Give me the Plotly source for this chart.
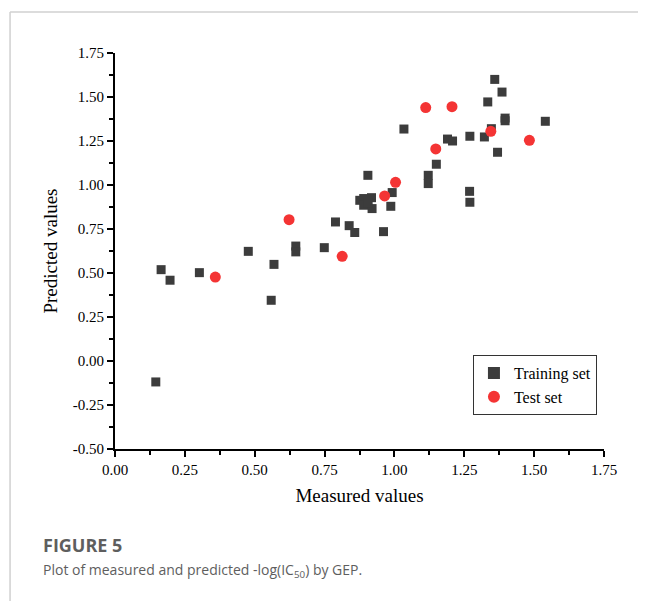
import plotly.graph_objects as go

train_x = [0.146, 0.165, 0.197, 0.302, 0.477, 0.559, 0.569, 0.647, 0.647, 0.749,
           0.789, 0.838, 0.858, 0.876, 0.890, 0.918, 0.890, 0.920, 0.906, 0.905,
           0.961, 0.987, 0.992, 1.034, 1.121, 1.121, 1.150, 1.190, 1.208, 1.269,
           1.270, 1.270, 1.322, 1.334, 1.347, 1.359, 1.369, 1.385, 1.396, 1.396,
           1.540]
train_y = [-0.119, 0.519, 0.459, 0.502, 0.623, 0.345, 0.549, 0.653, 0.620, 0.644,
           0.790, 0.769, 0.730, 0.913, 0.923, 0.928, 0.885, 0.866, 0.898, 1.055,
           0.735, 0.879, 0.957, 1.318, 1.055, 1.008, 1.118, 1.261, 1.250, 0.964,
           0.902, 1.277, 1.273, 1.472, 1.320, 1.600, 1.186, 1.528, 1.380, 1.365,
           1.362]

test_x = [0.359, 0.623, 0.813, 0.965, 1.004, 1.112, 1.148, 1.206, 1.345, 1.483]
test_y = [0.477, 0.803, 0.595, 0.938, 1.015, 1.440, 1.205, 1.445, 1.305, 1.254]

x_ticks = [0.00, 0.25, 0.50, 0.75, 1.00, 1.25, 1.50, 1.75]
y_ticks = [-0.50, -0.25, 0.00, 0.25, 0.50, 0.75, 1.00, 1.25, 1.50, 1.75]

serif = "Liberation Serif"

fig = go.Figure()
fig.add_trace(go.Scatter(
    x=train_x, y=train_y, mode="markers", name="Training set",
    marker=dict(symbol="square", size=9, color="#3c3c3c"),
))
fig.add_trace(go.Scatter(
    x=test_x, y=test_y, mode="markers", name="Test set",
    marker=dict(symbol="circle", size=11, color="#f43434"),
))

axis_common = dict(
    showgrid=False, zeroline=False, showline=True, linecolor="black", linewidth=2,
    ticks="outside", ticklen=6, tickwidth=1.5, tickcolor="black",
    tickfont=dict(family=serif, size=15, color="black"),
    minor=dict(ticks="outside", ticklen=4, tickwidth=1.5, tickcolor="black", dtick=0.125),
)

fig.update_xaxes(range=[0, 1.75], tickvals=x_ticks,
                 ticktext=[f"{v:.2f}" for v in x_ticks],
                 title=dict(text="Measured values", font=dict(family=serif, size=19, color="black"), standoff=12),
                 **axis_common)
fig.update_yaxes(range=[-0.5, 1.75], tickvals=y_ticks,
                 ticktext=[f"{v:.2f}" for v in y_ticks],
                 title=dict(text="Predicted values", font=dict(family=serif, size=19, color="black"), standoff=10),
                 **axis_common)

fig.update_layout(
    width=638, height=593,
    margin=dict(l=107, r=42, t=45, b=152),
    paper_bgcolor="white", plot_bgcolor="white",
    showlegend=True,
    legend=dict(x=0.732, y=0.237, xanchor="left", yanchor="top",
                bordercolor="#333", borderwidth=1, bgcolor="white",
                font=dict(family=serif, size=16, color="black"),
                itemsizing="constant", tracegroupgap=0),
    annotations=[
        dict(text="<b>FIGURE 5</b>", xref="paper", yref="paper", x=-0.151, y=-0.242,
             xanchor="left", yanchor="middle", showarrow=False,
             font=dict(family="Open Sans", size=18, color="#5e5e5e")),
        dict(text="Plot of measured and predicted -log(IC<sub>50</sub>) by GEP.",
             xref="paper", yref="paper", x=-0.151, y=-0.306,
             xanchor="left", yanchor="middle", showarrow=False,
             font=dict(family="Open Sans", size=14, color="#5e5e5e")),
    ],
    shapes=[
        dict(type="line", xref="paper", yref="paper", x0=-0.2146, x1=1.09, y0=1.1035, y1=1.1035,
             line=dict(color="#d0d0d0", width=1.5)),
        dict(type="line", xref="paper", yref="paper", x0=-0.2146, x1=-0.2146, y0=1.1035, y1=-0.39,
             line=dict(color="#d0d0d0", width=1.5)),
    ],
)

fig.write_html("out.html")
